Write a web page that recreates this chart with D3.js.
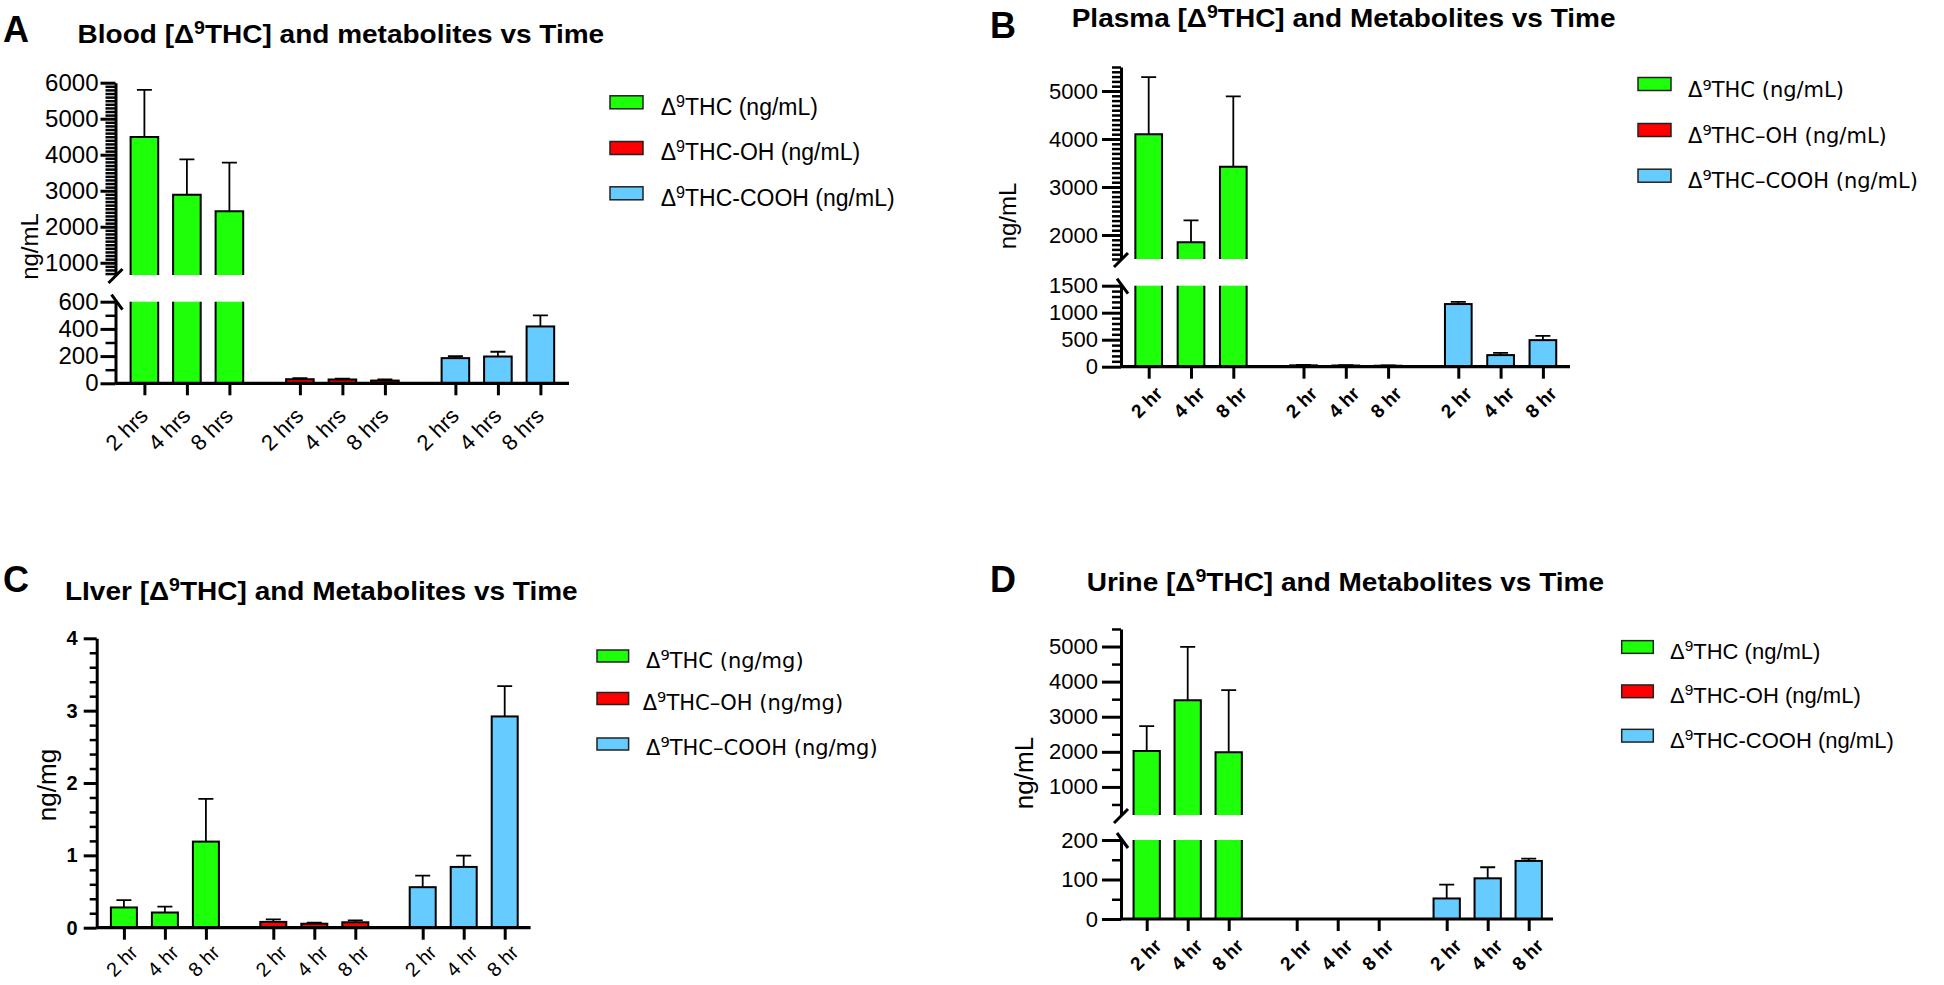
<!DOCTYPE html>
<html><head><meta charset="utf-8">
<script src="https://cdn.jsdelivr.net/npm/d3@7"></script>
<style>body{margin:0;background:#fff} svg{display:block}</style>
</head><body>
<svg id="chart" width="1944" height="985"></svg>
<script>
// ---------------- DATA ----------------
const groups = ["THC", "THC-OH", "THC-COOH"];
const timesHrs = ["2 hrs", "4 hrs", "8 hrs"];
const timesHr = ["2 hr", "4 hr", "8 hr"];

// Blood (ng/mL)
const bloodTHC = [4490, 2890, 2430];
const bloodTHCErr = [1310, 980, 1350];
const bloodOH = [30, 28, 20];
const bloodOHErr = [8, 7, 9];
const bloodCOOH = [185, 197, 418];
const bloodCOOHErr = [14, 35, 82];

// Plasma (ng/mL)
const plasmaTHC = [4100, 1850, 3420];
const plasmaTHCErr = [1190, 455, 1470];
const plasmaOH = [25, 22, 18];
const plasmaOHErr = [8, 6, 5];
const plasmaCOOH = [1160, 215, 492];
const plasmaCOOHErr = [42, 42, 80];

// Liver (ng/mg)
const liverTHC = [0.28, 0.21, 1.19];
const liverTHCErr = [0.10, 0.08, 0.59];
const liverOH = [0.08, 0.055, 0.075];
const liverOHErr = [0.035, 0.015, 0.025];
const liverCOOH = [0.56, 0.84, 2.92];
const liverCOOHErr = [0.16, 0.155, 0.42];

// Urine (ng/mL)
const urineTHC = [2020, 3470, 1990];
const urineTHCErr = [710, 1520, 1770];
const urineOH = [0, 0, 0];
const urineOHErr = [0, 0, 0];
const urineCOOH = [52, 103, 147];
const urineCOOHErr = [35, 28, 6];

// tick values
const ticksALower = [0, 200, 400, 600];
const ticksAUpper = [1000, 2000, 3000, 4000, 5000, 6000];
const ticksBLower = [0, 500, 1000, 1500];
const ticksBUpper = [2000, 3000, 4000, 5000];
const ticksC = [0, 1, 2, 3, 4];
const ticksDLower = [0, 100, 200];
const ticksDUpper = [1000, 2000, 3000, 4000, 5000];

// titles: [before superscript, superscript, after]
const titleA = ["Blood [Δ", "9", "THC] and metabolites vs Time"];
const titleB = ["Plasma [Δ", "9", "THC] and Metabolites vs Time"];
const titleC = ["LIver [Δ", "9", "THC] and Metabolites vs Time"];
const titleD = ["Urine [Δ", "9", "THC] and Metabolites vs Time"];

// legend labels (after "Δ⁹")
const legendA = ["THC (ng/mL)", "THC-OH (ng/mL)", "THC-COOH (ng/mL)"];
const legendB = ["THC (ng/mL)", "THC\u2013OH (ng/mL)", "THC\u2013COOH (ng/mL)"];
const legendC = ["THC (ng/mg)", "THC\u2013OH (ng/mg)", "THC\u2013COOH (ng/mg)"];
const legendD = ["THC (ng/mL)", "THC-OH (ng/mL)", "THC-COOH (ng/mL)"];

const colors = ["#1eff0a", "#ff0000", "#66ccff"];

// ---------------- DRAWING ----------------
const svg = d3.select("#chart");
const SANS = "'Liberation Sans', Arial, Helvetica, sans-serif";
const HUMAN = "'DejaVu Sans', 'Noto Sans', sans-serif";

function supText(sel, parts, size) {
  const shift = size * 0.36;
  sel.append("tspan").text(parts[0]);
  sel.append("tspan").attr("font-size", size * 0.7).attr("dy", -shift).text(parts[1]);
  sel.append("tspan").attr("dy", shift).text(parts[2]);
}

function drawPanel(cfg) {
  const g = svg.append("g");

  // letter
  g.append("text").attr("x", cfg.letterX).attr("y", cfg.letterY)
    .attr("font-family", SANS).attr("font-weight", "bold").attr("font-size", 36).text(cfg.letter);

  // title
  const tt = g.append("text")
    .attr("transform", `translate(${cfg.titleX},${cfg.titleY}) scale(1.12,1)`)
    .attr("font-family", SANS).attr("font-weight", "bold").attr("font-size", 25);
  supText(tt, cfg.title, 25);

  // scales
  const L = cfg.firstCenter - cfg.barW / 2;
  const bw = 2 * cfg.pitch + cfg.barW;
  const R = L + 2 * cfg.groupPitch + bw;
  const outer = d3.scaleBand().domain(groups).range([L, R])
    .paddingInner(1 - bw / cfg.groupPitch).paddingOuter(0);
  const inner = d3.scaleBand().domain(cfg.times).range([0, bw])
    .paddingInner(1 - cfg.barW / cfg.pitch).paddingOuter(0);

  const yLow = d3.scaleLinear().domain(cfg.lower.domain).range(cfg.lower.range);
  const yUp = cfg.upper ? d3.scaleLinear().domain(cfg.upper.domain).range(cfg.upper.range) : null;
  const lowMax = cfg.lower.domain[1];
  const base = yLow(0);
  const lowTop = yLow(lowMax);

  const bars = [];
  groups.forEach((gr, gi) => {
    cfg.times.forEach((t, ti) => {
      bars.push({ gr, gi, t, v: cfg.series[gi][0][ti], e: cfg.series[gi][1][ti] });
    });
  });

  const bg = g.append("g");
  bars.forEach(b => {
    const x = outer(b.gr) + inner(b.t);
    const w = inner.bandwidth();
    const col = colors[b.gi];
    if (b.v <= 0) return;
    if (yUp && b.v > lowMax) {
      const upB = yUp(cfg.upper.domain[0]);
      const yt = yUp(b.v);
      bg.append("rect").attr("x", x).attr("y", lowTop).attr("width", w).attr("height", base - lowTop).attr("fill", col);
      bg.append("path").attr("d", `M${x},${lowTop}V${base}M${x + w},${lowTop}V${base}`)
        .attr("stroke", "#000").attr("stroke-width", 2).attr("fill", "none");
      bg.append("rect").attr("x", x).attr("y", yt).attr("width", w).attr("height", upB - yt).attr("fill", col);
      bg.append("path").attr("d", `M${x},${upB}V${yt}H${x + w}V${upB}`)
        .attr("stroke", "#000").attr("stroke-width", 2).attr("fill", "none");
      if (b.e > 0) {
        const ye = yUp(b.v + b.e), cx = x + w / 2;
        bg.append("path").attr("d", `M${cx},${yt}V${ye}M${cx - 7.5},${ye}H${cx + 7.5}`)
          .attr("stroke", "#000").attr("stroke-width", 1.8).attr("fill", "none");
      }
    } else {
      const yt = yLow(b.v);
      bg.append("rect").attr("x", x).attr("y", yt).attr("width", w).attr("height", base - yt)
        .attr("fill", col).attr("stroke", "#000").attr("stroke-width", 2);
      if (b.e > 0) {
        const ye = yLow(b.v + b.e), cx = x + w / 2;
        bg.append("path").attr("d", `M${cx},${yt}V${ye}M${cx - 7.5},${ye}H${cx + 7.5}`)
          .attr("stroke", "#000").attr("stroke-width", 1.8).attr("fill", "none");
      }
    }
  });

  // y axes
  function yAxis(scale, seg) {
    const ax = g.append("g").attr("transform", `translate(${cfg.axisX},0)`);
    ax.call(d3.axisLeft(scale).tickValues(seg.ticks).tickSize(cfg.majorLen).tickSizeOuter(0)
      .tickPadding(cfg.tickPad).tickFormat(d3.format(cfg.fmt)));
    ax.attr("font-size", null).attr("font-family", null);
    ax.select("path.domain").attr("stroke", "#000").attr("stroke-width", 3);
    ax.selectAll(".tick line").attr("stroke", "#000").attr("stroke-width", 3);
    ax.selectAll(".tick text").attr("fill", "#000").attr("font-family", SANS)
      .attr("font-size", cfg.tickFont).attr("font-weight", cfg.tickBold ? "bold" : "normal");
    const d = scale.domain();
    const minor = d3.range(Math.ceil(d[0] / seg.minor - 1e-9) * seg.minor, d[1] + seg.minor * 0.01, seg.minor)
      .map(v => +v.toFixed(6))
      .filter(v => !seg.ticks.some(t => Math.abs(t - v) < 1e-6));
    const mx = g.append("g").attr("transform", `translate(${cfg.axisX},0)`);
    mx.call(d3.axisLeft(scale).tickValues(minor).tickSize(cfg.minorLen).tickFormat(""));
    mx.select("path.domain").remove();
    mx.selectAll(".tick line").attr("stroke", "#000").attr("stroke-width", 2.5);
  }
  yAxis(yLow, cfg.lower);
  if (yUp) {
    yAxis(yUp, cfg.upper);
    const ub = yUp(cfg.upper.domain[0]);
    const ax = cfg.axisX;
    g.append("path").attr("d", `M${ax - 7},${ub + 8}L${ax + 7},${ub - 6}M${ax - 4},${lowTop - 7}L${ax + 7},${lowTop + 8}`)
      .attr("stroke", "#000").attr("stroke-width", 3).attr("fill", "none");
  }

  // x axis
  const xKeys = bars.map(b => b.gr + "|" + b.t);
  const xCenters = bars.map(b => outer(b.gr) + inner(b.t) + inner.bandwidth() / 2);
  const xScale = d3.scaleOrdinal().domain(xKeys).range(xCenters);
  const xg = g.append("g").attr("transform", `translate(0,${base})`);
  xg.call(d3.axisBottom(xScale).tickSize(12).tickSizeOuter(0).tickFormat(""));
  xg.select("path.domain").remove();
  xg.selectAll(".tick line").attr("stroke", "#000").attr("stroke-width", 3);
  g.append("line").attr("x1", cfg.axisX).attr("x2", cfg.xEnd).attr("y1", base).attr("y2", base)
    .attr("stroke", "#000").attr("stroke-width", 3.2);

  // x tick labels
  bars.forEach(b => {
    const cx = xScale(b.gr + "|" + b.t);
    const px = cx + cfg.xlDx, py = base + 12 + cfg.xlDy;
    g.append("text").attr("transform", `translate(${px},${py}) rotate(-45)`)
      .attr("text-anchor", "end").attr("font-family", SANS)
      .attr("font-weight", cfg.xlBold ? "bold" : "normal").attr("font-size", cfg.xlSize).text(b.t);
  });

  // y label
  g.append("text").attr("transform", `translate(${cfg.yLabelX},${cfg.yLabelY}) rotate(-90)`)
    .attr("text-anchor", "middle").attr("dominant-baseline", "central")
    .attr("font-family", SANS).attr("font-size", cfg.yLabelSize).text(cfg.yLabel);

  // legend
  groups.forEach((gr, i) => {
    g.append("rect").attr("x", cfg.lg.boxX).attr("y", cfg.lg.boxY[i] - cfg.lg.boxH / 2)
      .attr("width", cfg.lg.boxW).attr("height", cfg.lg.boxH)
      .attr("fill", colors[i]).attr("stroke", "#222").attr("stroke-width", 1.5);
    const tx = Array.isArray(cfg.lg.textX) ? cfg.lg.textX[i] : cfg.lg.textX;
    const t = g.append("text").attr("x", tx).attr("y", cfg.lg.textY[i])
      .attr("font-family", cfg.lg.font).attr("font-size", cfg.lg.size);
    supText(t, ["Δ", "9", cfg.legend[i]], cfg.lg.size);
  });
}

drawPanel({
  letter: "A", letterX: 3, letterY: 42, title: titleA, titleX: 77.6, titleY: 43,
  axisX: 115.5, xEnd: 569,
  lower: { domain: [0, 600], range: [383.3, 301.7], ticks: ticksALower, minor: 100 },
  upper: { domain: [660, 6000], range: [275, 82.7], ticks: ticksAUpper, minor: 100 },
  firstCenter: 144.4, pitch: 42.5, groupPitch: 155.5, barW: 27.6,
  series: [[bloodTHC, bloodTHCErr], [bloodOH, bloodOHErr], [bloodCOOH, bloodCOOHErr]],
  times: timesHrs, xlBold: false, xlSize: 22, xlDx: 5, xlDy: 22,
  fmt: "d", tickFont: 24, tickBold: false, majorLen: 15, minorLen: 10, tickPad: 2,
  yLabel: "ng/mL", yLabelX: 29, yLabelY: 246.5, yLabelSize: 24,
  legend: legendA,
  lg: { font: SANS, size: 23, boxX: 610, boxW: 33, boxH: 13, boxY: [102.3, 148, 193.3], textX: 660.7, textY: [115, 160, 206] }
});

drawPanel({
  letter: "B", letterX: 990, letterY: 38, title: titleB, titleX: 1071.7, titleY: 27,
  axisX: 1121, xEnd: 1570,
  lower: { domain: [0, 1500], range: [366.7, 285.7], ticks: ticksBLower, minor: 100 },
  upper: { domain: [1500, 5500], range: [259, 67], ticks: ticksBUpper, minor: 100 },
  firstCenter: 1148.7, pitch: 42.3, groupPitch: 154.8, barW: 26.7,
  series: [[plasmaTHC, plasmaTHCErr], [plasmaOH, plasmaOHErr], [plasmaCOOH, plasmaCOOHErr]],
  times: timesHr, xlBold: true, xlSize: 19, xlDx: 15, xlDy: 16,
  fmt: "d", tickFont: 22, tickBold: false, majorLen: 19, minorLen: 9, tickPad: 4,
  yLabel: "ng/mL", yLabelX: 1007.5, yLabelY: 216, yLabelSize: 24,
  legend: legendB,
  lg: { font: HUMAN, size: 21, boxX: 1638, boxW: 33, boxH: 13, boxY: [84, 130, 175.7], textX: 1688, textY: [97.3, 142.7, 188] }
});

drawPanel({
  letter: "C", letterX: 3, letterY: 592, title: titleC, titleX: 65, titleY: 600,
  axisX: 96.7, xEnd: 530.6,
  lower: { domain: [0, 4], range: [927.7, 638.3], ticks: ticksC, minor: 0.2 },
  upper: null,
  firstCenter: 123.9, pitch: 41, groupPitch: 149.4, barW: 26,
  series: [[liverTHC, liverTHCErr], [liverOH, liverOHErr], [liverCOOH, liverCOOHErr]],
  times: timesHr, xlBold: false, xlSize: 20, xlDx: 15, xlDy: 14,
  fmt: "d", tickFont: 20, tickBold: true, majorLen: 13, minorLen: 7, tickPad: 6,
  yLabel: "ng/mg", yLabelX: 47, yLabelY: 785, yLabelSize: 26,
  legend: legendC,
  lg: { font: HUMAN, size: 21, boxX: 597, boxW: 31.6, boxH: 12, boxY: [656, 698.5, 744], textX: [646, 642.7, 646], textY: [668, 710, 755] }
});

drawPanel({
  letter: "D", letterX: 990, letterY: 592, title: titleD, titleX: 1086.7, titleY: 590.7,
  axisX: 1121, xEnd: 1553,
  lower: { domain: [0, 200], range: [919, 840], ticks: ticksDLower, minor: 50 },
  upper: { domain: [200, 5500], range: [815, 628.97], ticks: ticksDUpper, minor: 500 },
  firstCenter: 1146.7, pitch: 41, groupPitch: 150, barW: 26.3,
  series: [[urineTHC, urineTHCErr], [urineOH, urineOHErr], [urineCOOH, urineCOOHErr]],
  times: timesHr, xlBold: true, xlSize: 19, xlDx: 16, xlDy: 16,
  fmt: "d", tickFont: 22, tickBold: false, majorLen: 19, minorLen: 9, tickPad: 4,
  yLabel: "ng/mL", yLabelX: 1024, yLabelY: 773, yLabelSize: 26,
  legend: legendD,
  lg: { font: SANS, size: 22, boxX: 1621.7, boxW: 31.6, boxH: 12.7, boxY: [647, 691.3, 735.7], textX: 1670, textY: [659.3, 703.3, 747.7] }
});
</script>
</body></html>
